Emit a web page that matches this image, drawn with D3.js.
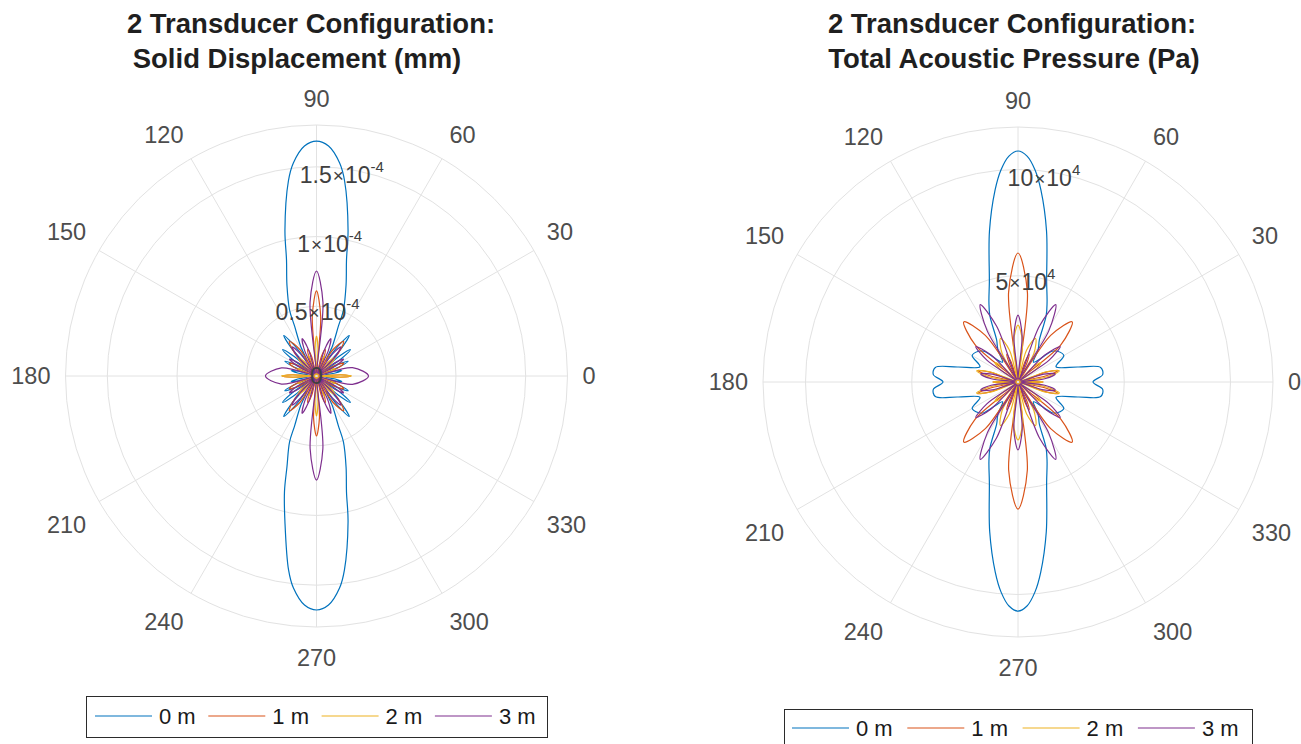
<!DOCTYPE html>
<html>
<head>
<meta charset="utf-8">
<script src="https://cdn.jsdelivr.net/npm/d3@7"></script>
<style>
  body { margin: 0; background: #fff; }
  svg { display: block; font-family: "Liberation Sans", Arial, Helvetica, sans-serif; }
</style>
</head>
<body>
<svg id="fig" width="1301" height="744"></svg>
<script>
// Angular grid (degrees) shared by both polar axes
const thetaTicks = [0, 30, 60, 90, 120, 150, 180, 210, 240, 270, 300, 330];
const seriesNames = ["0 m", "1 m", "2 m", "3 m"];
const seriesColors = ["#0072BD", "#D95319", "#EDB120", "#7E2F8E"];

// Solid displacement, in units of 1e-4 mm, as [angle in degrees, magnitude]
const disp0m = [[0,0.115],[6,0.057],[9,0.136],[12,0.186],[15,0.136],[18.5,0.065],[22,0.186],[25,0.251],[28,0.186],[31.5,0.072],[35,0.222],[38,0.308],[41,0.222],[44.5,0.086],[48,0.273],[51,0.373],[54,0.273],[58,0.129],
  [62,0.244],[66.3,0.392],[67.8,0.511],[72,0.686],[75.5,0.859],[77.8,1.071],[81.8,1.413],[83.8,1.537],[87,1.652],[90,1.685],
  [93,1.652],[96.2,1.537],[98.2,1.413],[102.2,1.071],[104.5,0.859],[108,0.686],[112.2,0.511],[113.7,0.392],[118,0.244],
  [122,0.129],[126,0.273],[129,0.373],[132,0.273],[135.5,0.086],[139,0.222],[142,0.308],[145,0.222],[148.5,0.072],[152,0.186],[155,0.251],[158,0.186],[161.5,0.065],[165,0.136],[168,0.186],[171,0.136],[174,0.057],[180,0.115],
  [186,0.057],[189,0.136],[192,0.186],[195,0.136],[198.5,0.065],[202,0.186],[205,0.251],[208,0.186],[211.5,0.072],[215,0.222],[218,0.308],[221,0.222],[224.5,0.086],[228,0.273],[231,0.373],[234,0.273],[238,0.129],
  [242,0.244],[246.3,0.392],[247.8,0.511],[252,0.686],[254.5,0.859],[257.8,1.071],[261.8,1.405],[263.8,1.53],[267,1.645],[270,1.678],
  [273,1.645],[276.2,1.53],[278.2,1.405],[282.2,1.071],[284.5,0.859],[288,0.686],[292.2,0.511],[293.7,0.392],[298,0.244],
  [302,0.129],[306,0.273],[309,0.373],[312,0.273],[315.5,0.086],[319,0.222],[322,0.308],[325,0.222],[328.5,0.072],[332,0.186],[335,0.251],[338,0.186],[341.5,0.065],[345,0.136],[348,0.186],[351,0.136],[354,0.057]];
const disp1m = [[0,0.244],[3,0.172],[12,0.014],[20,0.151],[25,0.215],[30,0.151],[38,0.014],[46,0.222],[52,0.316],[58,0.222],[63,0.014],[68,0.143],[72,0.201],[76,0.143],[81,0.014],[86,0.43],[90,0.61],[94,0.43],
  [99,0.014],[104,0.143],[108,0.201],[112,0.143],[117,0.014],[122,0.222],[128,0.316],[134,0.222],[142,0.014],[150,0.151],[155,0.215],[160,0.151],[168,0.014],[177,0.172],[180,0.244],[183,0.172],
  [192,0.014],[200,0.151],[205,0.215],[210,0.151],[218,0.014],[226,0.222],[232,0.316],[238,0.222],[243,0.014],[248,0.143],[252,0.201],[256,0.143],[261,0.014],[266,0.301],[270,0.43],[274,0.301],
  [279,0.014],[284,0.143],[288,0.201],[292,0.143],[297,0.014],[302,0.222],[308,0.316],[314,0.222],[322,0.014],[330,0.151],[335,0.215],[340,0.151],[348,0.014],[357,0.172]];
const disp2m = [[0,0.251],[2.5,0.179],[11,0.014],[18,0.10],[22,0.143],[26,0.10],[33,0.014],[40,0.129],[45,0.186],[50,0.129],[56,0.014],[64,0.108],[68,0.158],[72,0.108],[79,0.014],[87,0.20],[90,0.287],[93,0.20],
  [101,0.014],[108,0.108],[112,0.158],[116,0.108],[124,0.014],[130,0.129],[135,0.186],[140,0.129],[147,0.014],[154,0.10],[158,0.143],[162,0.10],[169,0.014],[177.5,0.179],[180,0.251],[182.5,0.179],
  [191,0.014],[198,0.10],[202,0.143],[206,0.10],[213,0.014],[220,0.129],[225,0.186],[230,0.129],[236,0.014],[244,0.108],[248,0.158],[252,0.108],[259,0.014],[267,0.20],[270,0.287],[273,0.20],
  [281,0.014],[288,0.108],[292,0.158],[296,0.108],[304,0.014],[310,0.129],[315,0.186],[320,0.129],[327,0.014],[334,0.10],[338,0.143],[342,0.10],[349,0.014],[357.5,0.179]];
const disp3m = [[0,0.373],[13,0.265],[20,0.022],[28,0.158],[32,0.229],[36,0.158],[41,0.022],[46,0.194],[50,0.273],[54,0.194],[59,0.022],[65,0.201],[69,0.287],[73,0.201],[79,0.022],[85,0.531],[90,0.753],[95,0.531],
  [101,0.022],[107,0.201],[111,0.287],[115,0.201],[121,0.022],[126,0.194],[130,0.273],[134,0.194],[139,0.022],[144,0.158],[148,0.229],[152,0.158],[160,0.022],[167,0.258],[180,0.366],[193,0.258],
  [200,0.022],[208,0.158],[212,0.229],[216,0.158],[221,0.022],[226,0.194],[230,0.273],[234,0.194],[239,0.022],[245,0.201],[249,0.287],[253,0.201],[259,0.022],[265,0.524],[270,0.746],[275,0.524],
  [281,0.022],[287,0.201],[291,0.287],[295,0.201],[301,0.022],[306,0.194],[310,0.273],[314,0.194],[319,0.022],[324,0.158],[328,0.229],[332,0.158],[340,0.022],[347,0.265]];
const dispTicks = [0, 0.5, 1, 1.5];
const dispTickLabels = [["0", ""], ["0.5", "-4"], ["1", "-4"], ["1.5", "-4"]];
const dispMax = 1.8;

// Total acoustic pressure, in units of 1e4 Pa, as [angle in degrees, magnitude]
const pres0m = [[0,3.53],[5,4.0],[10,3.95],[14,2.92],[22,1.93],[30,2.49],[38,2.35],[42,2.16],[52,1.18],[58,1.79],
  [63,2.21],[67,3.39],[70,4.0],[74,4.89],[79.3,7.23],[83.2,9.10],[85.4,10.01],[87.7,10.64],[90,10.87],
  [92.3,10.64],[94.6,10.01],[96.8,9.10],[100.7,7.23],[106,4.89],[110,4.0],[113,3.39],[117,2.21],
  [122,1.79],[128,1.18],[138,2.16],[142,2.35],[150,2.49],[158,1.93],[166,2.92],[170,3.95],[175,4.0],[180,3.53],
  [185,4.0],[190,3.95],[194,2.92],[202,1.93],[210,2.49],[218,2.35],[222,2.16],[232,1.18],[238,1.79],
  [243,2.21],[247,3.39],[250,4.0],[254,4.89],[259.3,7.17],[263.2,9.02],[265.4,9.92],[267.7,10.55],[270,10.78],
  [272.3,10.55],[274.6,9.92],[276.8,9.02],[280.7,7.17],[286,4.89],[290,4.0],[293,3.39],[297,2.21],
  [302,1.79],[308,1.18],[318,2.16],[322,2.35],[330,2.49],[338,1.93],[346,2.92],[350,3.95],[355,4.0]];
const pres1m = [[0,1.18],[2.5,0.8],[8,0.09],[12.5,1.36],[16,1.98],[19.5,1.36],[27,0.09],[41,2.68],[48,3.81],[55,2.68],[60,0.09],[65,0.99],[68,1.41],[71,0.99],[76,0.09],[84,4.24],[90,6.07],[96,4.24],
  [104,0.09],[109,0.99],[112,1.41],[115,0.99],[120,0.09],[125,2.68],[132,3.81],[139,2.68],[153,0.09],[160.5,1.36],[164,1.98],[167.5,1.36],[172,0.09],[177.5,0.8],[180,1.18],[182.5,0.8],
  [188,0.09],[192.5,1.36],[196,1.98],[199.5,1.36],[207,0.09],[221,2.68],[228,3.81],[235,2.68],[240,0.09],[245,0.99],[248,1.41],[251,0.99],[256,0.09],[264,4.19],[270,5.98],[276,4.19],
  [284,0.09],[289,0.99],[292,1.41],[295,0.99],[300,0.09],[305,2.68],[312,3.81],[319,2.68],[333,0.09],[340.5,1.36],[344,1.98],[347.5,1.36],[352,0.09],[357.5,0.8]];
const pres2m = [[0,1.18],[3,0.8],[7,0.09],[10,1.41],[15,2.02],[20,1.41],[27,0.09],[35,0.99],[40,1.41],[45,0.99],[53,0.09],[61,1.55],[68,2.21],[75,1.55],[79,0.09],[83.5,1.88],[90,2.68],[96.5,1.88],
  [101,0.09],[105,1.55],[112,2.21],[119,1.55],[127,0.09],[135,0.99],[140,1.41],[145,0.99],[153,0.09],[160,1.41],[165,2.02],[170,1.41],[173,0.09],[177,0.8],[180,1.18],[183,0.8],
  [187,0.09],[190,1.41],[195,2.02],[200,1.41],[207,0.09],[215,0.99],[220,1.41],[225,0.99],[233,0.09],[241,1.55],[248,2.21],[255,1.55],[259,0.09],[263.5,1.93],[270,2.73],[276.5,1.93],
  [281,0.09],[285,1.55],[292,2.21],[299,1.55],[307,0.09],[315,0.99],[320,1.41],[325,0.99],[333,0.09],[340,1.41],[345,2.02],[350,1.41],[353,0.09],[357,0.8]];
const pres3m = [[0,0.14],[7,1.27],[12,1.79],[17,1.27],[26,0.14],[35,1.79],[40,2.59],[45,1.79],[52,0.14],[59,2.82],[64,4.05],[69,2.82],[77,0.14],[85,2.21],[90,3.15],[95,2.21],
  [103,0.14],[111,2.82],[116,4.05],[121,2.82],[128,0.14],[135,1.79],[140,2.59],[145,1.79],[154,0.14],[163,1.27],[168,1.79],[173,1.27],[180,0.14],
  [187,1.27],[192,1.79],[197,1.27],[206,0.14],[215,1.79],[220,2.59],[225,1.79],[232,0.14],[239,2.82],[244,4.05],[249,2.82],[257,0.14],[265,2.26],[270,3.2],[275,2.26],
  [283,0.14],[291,2.82],[296,4.05],[301,2.82],[308,0.14],[315,1.79],[320,2.59],[325,1.79],[334,0.14],[343,1.27],[348,1.79],[353,1.27]];
const presTicks = [5, 10];
const presTickLabels = [["5", "4"], ["10", "4"]];
const presMax = 12;

const svg = d3.select("#fig");
const rad = d => d * Math.PI / 180;

const panels = [
  {
    title: ["2 Transducer Configuration:", "Solid Displacement (mm)"], titleX: [311, 297],
    cx: 316.5, cy: 376, R: 251, max: dispMax,
    ticks: dispTicks, tickLabels: dispTickLabels,
    series: [disp0m, disp1m, disp2m, disp3m],
    legend: { x: 86, y: 696, w: 461, h: 41, first: 95, step: 113.3, lineY: 716 }
  },
  {
    title: ["2 Transducer Configuration:", "Total Acoustic Pressure (Pa)"], titleX: [1012, 1014],
    cx: 1018, cy: 382, R: 255, max: presMax,
    ticks: presTicks, tickLabels: presTickLabels,
    series: [pres0m, pres1m, pres2m, pres3m],
    legend: { x: 784, y: 709, w: 468, h: 41, first: 792, step: 115.3, lineY: 728 }
  }
];

panels.forEach(p => {
  const r = d3.scaleLinear().domain([0, p.max]).range([0, p.R]);
  const g = svg.append("g").attr("transform", `translate(${p.cx},${p.cy})`);

  // circular grid at each tick and the outer boundary
  const rings = p.ticks.filter(v => v > 0).concat([p.max]);
  g.selectAll("circle.ring").data(rings).join("circle")
    .attr("class", "ring").attr("r", d => r(d))
    .attr("fill", "none").attr("stroke", "#e2e2e2").attr("stroke-width", 1);

  // radial spokes
  g.selectAll("line.spoke").data(thetaTicks).join("line")
    .attr("class", "spoke")
    .attr("x1", 0).attr("y1", 0)
    .attr("x2", d => p.R * Math.cos(rad(d)))
    .attr("y2", d => -p.R * Math.sin(rad(d)))
    .attr("stroke", "#e2e2e2").attr("stroke-width", 1);

  // angle labels: anchored just outside the rim, aligned away from the centre
  thetaTicks.forEach(t => {
    const c = Math.cos(rad(t)), s = Math.sin(rad(t));
    const d = p.R + 15;
    const anchor = c > 0.01 ? "start" : (c < -0.01 ? "end" : "middle");
    const yOff = s > 0.01 ? -11 : (s < -0.01 ? 16 : 0);
    g.append("text").text(t)
      .attr("x", d * c).attr("y", -d * s + yOff)
      .attr("font-size", 23.5).attr("fill", "#4d4d4d")
      .attr("text-anchor", anchor).attr("dominant-baseline", "central");
  });

  // pattern curves
  const line = d3.lineRadial()
    .angle(d => rad(90 - d[0]))
    .radius(d => r(d[1]))
    .curve(d3.curveCatmullRomClosed.alpha(0.5));
  g.selectAll("path.series").data(p.series).join("path")
    .attr("class", "series")
    .attr("d", line)
    .attr("fill", "none")
    .attr("stroke", (d, i) => seriesColors[i])
    .attr("stroke-width", 1.2);

  // radial tick labels along the 80 degree direction
  p.ticks.forEach((v, i) => {
    const rr = r(v);
    const x = rr * Math.cos(rad(80)) + (v === 0 ? 0 : -11);
    const y = -rr * Math.sin(rad(80)) + (v === 0 ? 0 : 5);
    const [mant, exp] = p.tickLabels[i];
    const t = g.append("text")
      .attr("x", x).attr("y", y)
      .attr("text-anchor", "middle").attr("dominant-baseline", "central")
      .attr("font-size", 23).attr("fill", "#404040");
    t.append("tspan").text(mant);
    if (exp) {
      t.append("tspan").text("×").attr("font-size", 19).attr("dx", 1);
      t.append("tspan").text("10").attr("dx", 1);
      t.append("tspan").text(exp).attr("font-size", 15).attr("dy", -9);
    }
  });

  // title
  p.title.forEach((line, i) => {
    svg.append("text").text(line)
      .attr("x", p.titleX[i]).attr("y", 33 + i * 35)
      .attr("text-anchor", "middle")
      .attr("font-size", 27.5).attr("font-weight", "bold").attr("fill", "#1f1f1f");
  });

  // legend
  const L = p.legend;
  svg.append("rect").attr("x", L.x + 0.5).attr("y", L.y + 0.5)
    .attr("width", L.w).attr("height", L.h)
    .attr("fill", "#fff").attr("stroke", "#2b2b2b").attr("stroke-width", 1);
  seriesNames.forEach((name, i) => {
    const x0 = L.first + i * L.step;
    svg.append("line").attr("x1", x0).attr("x2", x0 + 57)
      .attr("y1", L.lineY).attr("y2", L.lineY)
      .attr("stroke", seriesColors[i]).attr("stroke-width", 1.2);
    svg.append("text").text(name)
      .attr("x", x0 + 64).attr("y", L.lineY + 8)
      .attr("font-size", 22).attr("fill", "#1a1a1a");
  });
});
</script>
</body>
</html>
